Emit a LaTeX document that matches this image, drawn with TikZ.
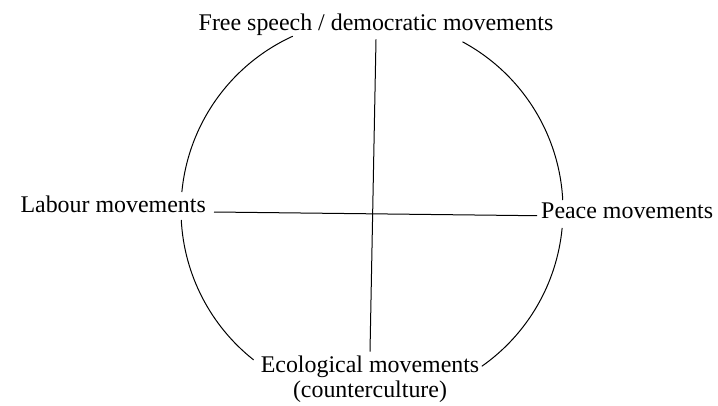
\documentclass[tikz,border=0pt]{standalone}
\usepackage{fontspec}
\setmainfont{Liberation Serif}
\usetikzlibrary{positioning}
\tikzset{
  movement/.style={font=\fontsize{24}{25}\selectfont,inner sep=4bp,align=center},
  rim/.style={line width=1bp},
  axis/.style={line width=1bp},
}

\begin{document}
\begin{tikzpicture}[x=1bp,y=1bp]
  \useasboundingbox (0,0) rectangle (718,405);
  \coordinate (ctr) at (372,195);
  \def\rad{191}
  \node[movement,anchor=base] (free) at (376,375) {Free speech / democratic movements};
  \node[movement,anchor=base east] (labour) at (210,193) {Labour movements};
  \node[movement,anchor=base west] (peace) at (537,187) {Peace movements};
  \node[movement,anchor=north] (eco) at (370,53.4) {Ecological movements\\(counterculture)};
  % the circle, broken where the labels sit
  \foreach \a/\b in {61.7/3, -5.4/-54.9, 231.7/183, 174.6/114.5}
    \draw[rim] (ctr) ++(\a:\rad) arc[start angle=\a,end angle=\b,radius=\rad];
  % the two axes
  \draw[axis] (free.south) -- (eco.north);
  \draw[axis] ([xshift=4bp]labour.base east) -- (peace.mid west);
\end{tikzpicture}
\end{document}
